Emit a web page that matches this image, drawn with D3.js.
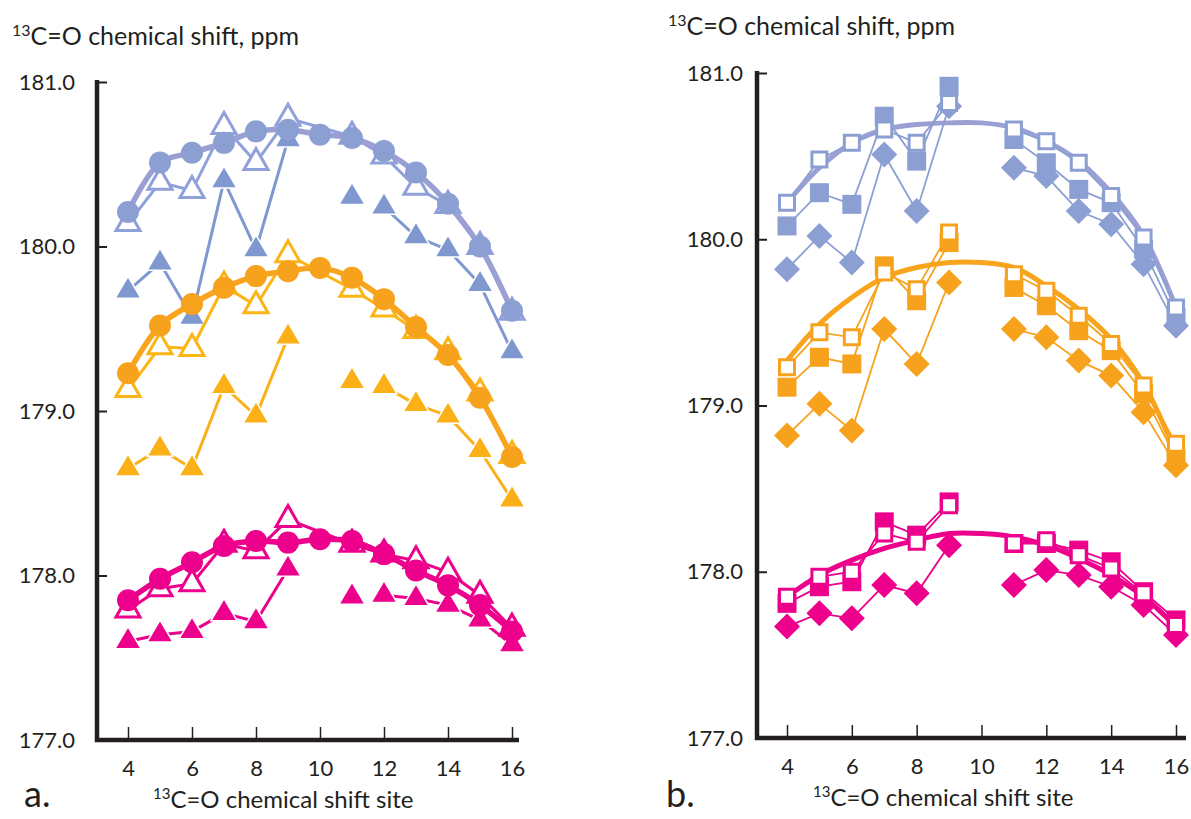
<!DOCTYPE html>
<html>
<head>
<meta charset="utf-8">
<script src="https://cdn.jsdelivr.net/npm/d3@7"></script>
<style>
body { margin: 0; background: #fff; }
text { font-family: Lato, "Open Sans", sans-serif; fill: #231f20; }
</style>
</head>
<body>
<svg id="chart" width="1191" height="819"></svg>
<script>
var sites = [4, 5, 6, 7, 8, 9, 10, 11, 12, 13, 14, 15, 16];
var xTicks = [4, 6, 8, 10, 12, 14, 16];
var yTicks = [177, 178, 179, 180, 181];

// panel a: circles, open triangles, filled triangles
var aBlueCircle = [180.21, 180.51, 180.57, 180.63, 180.70, 180.71, 180.68, 180.66, 180.58, 180.45, 180.26, 180.00, 179.61];
var aBlueOpen   = [180.14, 180.39, 180.34, 180.73, 180.51, 180.78, null, 180.67, 180.55, 180.36, 180.25, 180.00, 179.60];
var aBlueTri    = [179.73, 179.90, 179.57, 180.40, 179.98, 180.65, null, 180.30, 180.24, 180.06, 179.98, 179.77, 179.36];

var aOrangeCircle = [179.23, 179.52, 179.65, 179.75, 179.82, 179.85, 179.87, 179.81, 179.68, 179.51, 179.34, 179.08, 178.72];
var aOrangeOpen   = [179.13, 179.39, 179.38, 179.76, 179.64, 179.95, null, 179.74, 179.62, 179.49, 179.36, 179.11, 178.73];
var aOrangeTri    = [178.65, 178.77, 178.65, 179.15, 178.97, 179.45, null, 179.18, 179.15, 179.04, 178.97, 178.76, 178.46];

var aPinkCircle = [177.85, 177.98, 178.08, 178.18, 178.21, 178.20, 178.22, 178.21, 178.13, 178.03, 177.94, 177.82, 177.66];
var aPinkOpen   = [177.79, 177.92, 177.95, 178.19, 178.15, 178.34, null, 178.19, 178.13, 178.09, 178.02, 177.88, 177.68];
var aPinkTri    = [177.60, 177.64, 177.66, 177.77, 177.72, 178.04, null, 177.87, 177.88, 177.86, 177.82, 177.73, 177.58];

// panel b: fitted curve, open squares, filled squares, diamonds
var bBlueFit     = [180.22, 180.43, 180.58, 180.66, 180.69, 180.70, 180.70, 180.67, 180.59, 180.47, 180.28, 180.02, 179.59];
var bBlueOpen    = [180.22, 180.48, 180.58, 180.66, 180.58, 180.82, null, 180.66, 180.59, 180.46, 180.26, 180.01, 179.59];
var bBlueSquare  = [180.08, 180.28, 180.21, 180.74, 180.47, 180.92, null, 180.60, 180.46, 180.30, 180.22, 179.94, 179.53];
var bBlueDiamond = [179.82, 180.02, 179.86, 180.51, 180.17, 180.80, null, 180.43, 180.38, 180.17, 180.09, 179.85, 179.48];

var bOrangeFit     = [179.27, 179.49, 179.65, 179.77, 179.83, 179.86, 179.86, 179.83, 179.72, 179.58, 179.40, 179.13, 178.71];
var bOrangeOpen    = [179.23, 179.44, 179.41, 179.80, 179.70, 180.04, null, 179.79, 179.69, 179.54, 179.37, 179.12, 178.77];
var bOrangeSquare  = [179.11, 179.29, 179.25, 179.84, 179.63, 179.98, null, 179.71, 179.60, 179.45, 179.33, 179.07, 178.68];
var bOrangeDiamond = [178.82, 179.01, 178.85, 179.46, 179.25, 179.74, null, 179.46, 179.41, 179.27, 179.18, 178.96, 178.64];

var bPinkFit     = [177.85, 177.98, 178.07, 178.14, 178.19, 178.23, 178.23, 178.21, 178.16, 178.08, 177.98, 177.85, 177.67];
var bPinkOpen    = [177.85, 177.97, 178.00, 178.23, 178.18, 178.40, null, 178.17, 178.19, 178.10, 178.02, 177.87, 177.68];
var bPinkSquare  = [177.81, 177.91, 177.94, 178.30, 178.22, 178.42, null, 178.17, 178.17, 178.13, 178.06, 177.88, 177.71];
var bPinkDiamond = [177.67, 177.75, 177.72, 177.92, 177.87, 178.16, null, 177.92, 178.01, 177.98, 177.91, 177.80, 177.62];

var ink = "#231f20";
var blue = { circle: "#8c9fd3", fit: "#9aa0d3", open: "#8fa0da", tri: "#7f98d0" };
var orange = { circle: "#f7a21c", fit: "#f8a51d", open: "#fdb515", tri: "#fbb017" };
var pink = { circle: "#ec008c", fit: "#ec008c", open: "#ec008c", tri: "#ec008c" };

var svg = d3.select("#chart");

function zip(vals) {
    return sites.map(function(s, i) { return { x: s, y: vals[i] }; });
}

function triPath(w, h) {
    return "M0," + (-h * 2 / 3) + "L" + w + "," + (h / 3) + "L" + (-w) + "," + (h / 3) + "Z";
}
function squarePath(s) {
    return "M" + (-s) + "," + (-s) + "H" + s + "V" + s + "H" + (-s) + "Z";
}
function diamondPath(s) {
    return "M0," + (-s) + "L" + s + ",0L0," + s + "L" + (-s) + ",0Z";
}

function axes(x, y, x0, yBottom, xEnd, pad) {
    var ya = svg.append("g")
        .attr("transform", "translate(" + x0 + ",0)")
        .call(d3.axisLeft(y).tickValues(yTicks).tickFormat(d3.format(".1f"))
            .tickSizeInner(-10).tickSizeOuter(0).tickPadding(pad));
    ya.select(".domain").remove();
    ya.selectAll("line").attr("stroke", ink).attr("stroke-width", 2);
    ya.selectAll("text").style("font-size", "22px").attr("fill", ink);

    var xa = svg.append("g")
        .attr("transform", "translate(0," + yBottom + ")")
        .call(d3.axisBottom(x).tickValues(xTicks).tickFormat(d3.format("d"))
            .tickSizeInner(-13).tickSizeOuter(0).tickPadding(20));
    xa.select(".domain").remove();
    xa.selectAll("line").attr("stroke", ink).attr("stroke-width", 1.5);
    xa.selectAll("text").style("font-size", "22px").attr("fill", ink);

    svg.append("path")
        .attr("d", "M" + x0 + "," + (y(181) - 2) + "V" + yBottom + "H" + xEnd)
        .attr("fill", "none")
        .attr("stroke", ink)
        .attr("stroke-width", 4.5);
}

// ---- panel a ----
var xa = d3.scaleLinear().domain([4, 16]).range([128, 512]);
var ya = d3.scaleLinear().domain([177, 181]).range([740, 82]);
axes(xa, ya, 97, 740, 519, 22);

function groupA(col, circ, open, tri) {
    // filled triangles, segments broken at the missing site and after site 11
    var pts = zip(tri);
    for (var i = 0; i < pts.length - 1; i++) {
        var a = pts[i], b = pts[i + 1];
        if (a.y == null || b.y == null || a.x == 11) continue;
        svg.append("line")
            .attr("x1", xa(a.x)).attr("y1", ya(a.y))
            .attr("x2", xa(b.x)).attr("y2", ya(b.y))
            .attr("stroke", col.tri).attr("stroke-width", 3);
    }
    svg.append("g").selectAll("path")
        .data(pts.filter(function(d) { return d.y != null; }))
        .enter().append("path")
        .attr("transform", function(d) { return "translate(" + xa(d.x) + "," + ya(d.y) + ")"; })
        .attr("d", triPath(13, 22))
        .attr("fill", col.tri).attr("stroke", "#fff").attr("stroke-width", 1.5);

    // open triangles
    var op = zip(open).filter(function(d) { return d.y != null; });
    svg.append("path").datum(op)
        .attr("d", d3.line().x(function(d) { return xa(d.x); }).y(function(d) { return ya(d.y); }))
        .attr("fill", "none").attr("stroke", col.open).attr("stroke-width", 3);
    svg.append("g").selectAll("path")
        .data(op).enter().append("path")
        .attr("transform", function(d) { return "translate(" + xa(d.x) + "," + ya(d.y) + ")"; })
        .attr("d", triPath(12, 21))
        .attr("fill", "#fff").attr("stroke", col.open).attr("stroke-width", 3);

    // circles with thick line
    var cp = zip(circ);
    svg.append("path").datum(cp)
        .attr("d", d3.line().curve(d3.curveCatmullRom)
            .x(function(d) { return xa(d.x); }).y(function(d) { return ya(d.y); }))
        .attr("fill", "none").attr("stroke", col.fit).attr("stroke-width", 5.5);
    svg.append("g").selectAll("circle")
        .data(cp).enter().append("circle")
        .attr("cx", function(d) { return xa(d.x); })
        .attr("cy", function(d) { return ya(d.y); })
        .attr("r", 11)
        .attr("fill", col.circle);
}

groupA(blue, aBlueCircle, aBlueOpen, aBlueTri);
groupA(orange, aOrangeCircle, aOrangeOpen, aOrangeTri);
groupA(pink, aPinkCircle, aPinkOpen, aPinkTri);

// ---- panel b ----
var xb = d3.scaleLinear().domain([4, 16]).range([787, 1176]);
var yb = d3.scaleLinear().domain([177, 181]).range([738, 73]);
axes(xb, yb, 757, 738, 1186, 14);

var lineB = d3.line()
    .defined(function(d) { return d.y != null; })
    .x(function(d) { return xb(d.x); })
    .y(function(d) { return yb(d.y); });

function groupB(col, fit, open, sq, dia) {
    svg.append("path").datum(zip(fit))
        .attr("d", d3.line().curve(d3.curveCatmullRom)
            .x(function(d) { return xb(d.x); }).y(function(d) { return yb(d.y); }))
        .attr("fill", "none").attr("stroke", col.fit).attr("stroke-width", 5);

    [dia, sq, open].forEach(function(vals) {
        svg.append("path").datum(zip(vals))
            .attr("d", lineB)
            .attr("fill", "none").attr("stroke", col.circle).attr("stroke-width", 1.8);
    });

    svg.append("g").selectAll("path")
        .data(zip(dia).filter(function(d) { return d.y != null; }))
        .enter().append("path")
        .attr("transform", function(d) { return "translate(" + xb(d.x) + "," + yb(d.y) + ")"; })
        .attr("d", diamondPath(13))
        .attr("fill", col.circle);
    svg.append("g").selectAll("path")
        .data(zip(sq).filter(function(d) { return d.y != null; }))
        .enter().append("path")
        .attr("transform", function(d) { return "translate(" + xb(d.x) + "," + yb(d.y) + ")"; })
        .attr("d", squarePath(9.5))
        .attr("fill", col.circle);
    svg.append("g").selectAll("path")
        .data(zip(open).filter(function(d) { return d.y != null; }))
        .enter().append("path")
        .attr("transform", function(d) { return "translate(" + xb(d.x) + "," + yb(d.y) + ")"; })
        .attr("d", squarePath(7.5))
        .attr("fill", "#fff").attr("stroke", col.circle).attr("stroke-width", 3);
}

groupB(blue, bBlueFit, bBlueOpen, bBlueSquare, bBlueDiamond);
groupB(orange, bOrangeFit, bOrangeOpen, bOrangeSquare, bOrangeDiamond);
groupB(pink, bPinkFit, bPinkOpen, bPinkSquare, bPinkDiamond);

// ---- titles ----
function title(x, y, size, rest) {
    var t = svg.append("text").attr("x", x).attr("y", y).style("font-size", size + "px");
    t.append("tspan").text("13").style("font-size", Math.round(size * 0.62) + "px").attr("dy", -9);
    t.append("tspan").text(rest).attr("dy", 9);
}
title(12, 45, 25, "C=O chemical shift, ppm");
title(668, 35, 25, "C=O chemical shift, ppm");
title(153, 808, 24, "C=O chemical shift site");
title(813, 806, 24, "C=O chemical shift site");

svg.append("text").attr("x", 24).attr("y", 807).style("font-size", "36px").text("a.");
svg.append("text").attr("x", 666).attr("y", 807).style("font-size", "36px").text("b.");
</script>
</body>
</html>
